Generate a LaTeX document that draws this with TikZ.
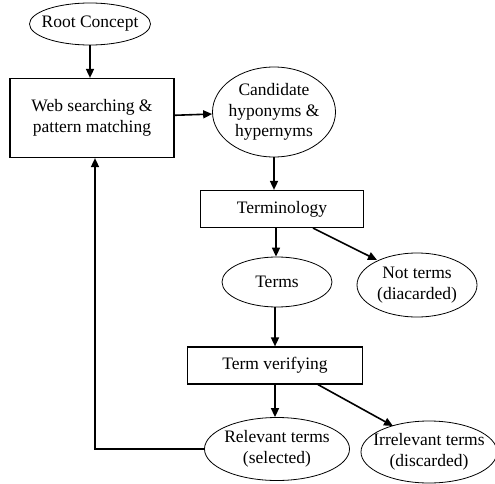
\documentclass[tikz,border=0pt]{standalone}
\usepackage{fontspec}
\setmainfont{Liberation Serif}
\usetikzlibrary{arrows.meta,shapes.geometric}
\begin{document}
\begin{tikzpicture}[x=1pt,y=-1pt,
  font=\fontsize{17.5}{20.5}\selectfont,
  ell/.style={draw,ellipse,line width=0.8pt,inner xsep=-25pt,inner ysep=-12pt,align=center},
  box/.style={draw,rectangle,line width=1.2pt,inner sep=0pt,align=center},
  arr/.style={line width=1.6pt,-{Triangle[length=9pt,width=8pt]}}]
\useasboundingbox (0,0) rectangle (495,484);
\node[ell,minimum width=121pt,minimum height=42pt] (root) at (90,24) {Root Concept};
\node[box,minimum width=164pt,minimum height=79pt] (web) at (92,118) {Web searching \&\\ pattern matching};
\node[ell,minimum width=123pt,minimum height=90pt] (cand) at (274,112) {Candidate\\hyponyms \&\\hypernyms};
\node[box,minimum width=163pt,minimum height=37pt] (termin) at (282,209) {Terminology};
\node[ell,minimum width=110pt,minimum height=50pt] (terms) at (277,282) {Terms};
\node[ell,minimum width=120pt,minimum height=64pt] (nott) at (417,285) {Not terms\\(diacarded)};
\node[box,minimum width=175pt,minimum height=37pt] (verif) at (275,365.5) {Term verifying};
\node[ell,minimum width=145pt,minimum height=63pt] (rel) at (277,449) {Relevant terms\\(selected)};
\node[ell,minimum width=136pt,minimum height=62pt] (irr) at (429,452) {Irrelevant terms\\(discarded)};
\draw[arr] (root) -- (root|-web.north);
\draw[arr] (web) -- (cand);
\draw[arr] (cand.south-|274,0) -- (274,0|-termin.north);
\draw[arr] (276,0|-termin.south) -- (terms.north-|276,0);
\draw[arr] (313,0|-termin.south) -- (377,260);
\draw[arr] (275,0|-terms.south) -- (275,0|-verif.north);
\draw[arr] (275,0|-verif.south) -- (275,0|-rel.north);
\draw[arr] (318,0|-verif.south) -- (393,426);
\coordinate (fb) at (95,0);
\draw[arr] (rel.west) -- (rel.west-|fb) -- (fb|-web.south);
\end{tikzpicture}
\end{document}
